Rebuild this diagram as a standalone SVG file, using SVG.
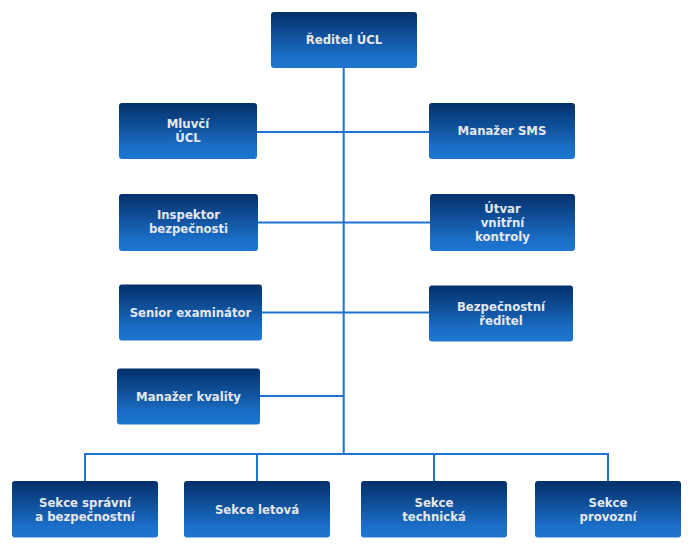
<svg xmlns="http://www.w3.org/2000/svg" width="692" height="546" viewBox="0 0 692 546">
<defs>
<linearGradient id="g" x1="0" y1="0" x2="0" y2="1">
<stop offset="0" stop-color="#03306a"/>
<stop offset="0.45" stop-color="#11539e"/>
<stop offset="0.8" stop-color="#1b6fc8"/>
<stop offset="1" stop-color="#1d76d0"/>
</linearGradient>
</defs>
<style>
.b{fill:url(#g);}
.t{font-family:"DejaVu Sans","Verdana",sans-serif;font-weight:bold;font-size:11.7px;fill:#e6e8ee;text-anchor:middle;}
.c{stroke:#1e73cf;stroke-width:2;fill:none;}
</style>
<rect width="692" height="546" fill="#ffffff"/>
<g id="connectors">
<path class="c" d="M343.7 68 V454"/>
<path class="c" d="M257 132 H429"/>
<path class="c" d="M258 222.5 H430"/>
<path class="c" d="M262 312.5 H429"/>
<path class="c" d="M260 396 H344"/>
<path class="c" d="M85 481 V454 H608 V481"/>
<path class="c" d="M257 454 V481"/>
<path class="c" d="M434 454 V481"/>
</g>
<g id="reditel">
<rect class="b" x="271" y="12" width="146" height="56" rx="3"/>
<text class="t" x="344" y="44">Ředitel ÚCL</text>
</g>
<g id="mluvci">
<rect class="b" x="119" y="103" width="138" height="56" rx="3"/>
<text class="t" x="188" y="128.2">Mluvčí</text>
<text class="t" x="188" y="142.2">ÚCL</text>
</g>
<g id="manazer-sms">
<rect class="b" x="429" y="103" width="146" height="56" rx="3"/>
<text class="t" x="502" y="135.2">Manažer SMS</text>
</g>
<g id="inspektor">
<rect class="b" x="119" y="194" width="139" height="57" rx="3"/>
<text class="t" x="188.5" y="219.2">Inspektor</text>
<text class="t" x="188.5" y="233.2">bezpečnosti</text>
</g>
<g id="utvar">
<rect class="b" x="430" y="194" width="145" height="57" rx="3"/>
<text class="t" x="502.5" y="213">Útvar</text>
<text class="t" x="502.5" y="227">vnitřní</text>
<text class="t" x="502.5" y="241.4">kontroly</text>
</g>
<g id="senior">
<rect class="b" x="119" y="284.5" width="143" height="56" rx="3"/>
<text class="t" x="190.5" y="316.5">Senior examinátor</text>
</g>
<g id="bezp-reditel">
<rect class="b" x="429" y="285.5" width="144" height="56" rx="3"/>
<text class="t" x="501" y="311">Bezpečnostní</text>
<text class="t" x="501" y="324.5">ředitel</text>
</g>
<g id="manazer-kvality">
<rect class="b" x="117" y="368.5" width="143" height="56" rx="3"/>
<text class="t" x="188.5" y="401">Manažer kvality</text>
</g>
<g id="sekce-spravni">
<rect class="b" x="12" y="481" width="146" height="56.5" rx="3"/>
<text class="t" x="85" y="506.5">Sekce správní</text>
<text class="t" x="85" y="521">a bezpečnostní</text>
</g>
<g id="sekce-letova">
<rect class="b" x="184" y="481" width="146" height="56.5" rx="3"/>
<text class="t" x="257" y="514">Sekce letová</text>
</g>
<g id="sekce-technicka">
<rect class="b" x="361" y="481" width="146" height="56.5" rx="3"/>
<text class="t" x="434" y="506.5">Sekce</text>
<text class="t" x="434" y="521">technická</text>
</g>
<g id="sekce-provozni">
<rect class="b" x="535" y="481" width="146" height="56.5" rx="3"/>
<text class="t" x="608" y="506.5">Sekce</text>
<text class="t" x="608" y="521">provozní</text>
</g>
</svg>
